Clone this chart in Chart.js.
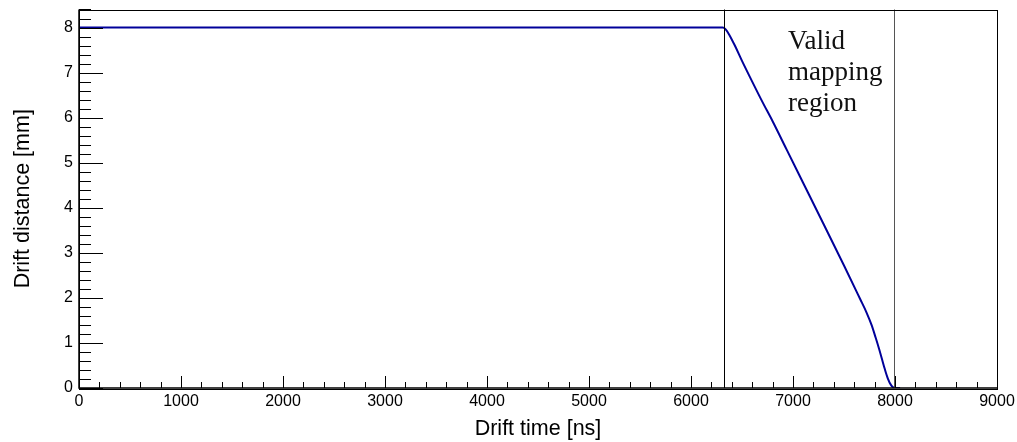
<!DOCTYPE html>
<html>
<head>
<meta charset="utf-8">
<script src="https://cdn.jsdelivr.net/npm/chart.js@4/dist/chart.umd.min.js"></script>
<style>
html,body{margin:0;padding:0;background:#fff;}
#wrap{width:1017px;height:442px;position:relative;}
</style>
</head>
<body>
<div id="wrap"><canvas id="c" width="1017" height="442"></canvas></div>
<script>
// ---- data ----
const driftTime = [0, 6310, 6340, 6380, 6430, 6500, 6600, 6700, 6800, 6938, 7100, 7297, 7500, 7657, 7720, 7770, 7810, 7845, 7870, 7900, 7930, 7960, 7985, 8000, 8050];
const driftDist = [8, 8, 7.96, 7.82, 7.6, 7.26, 6.8, 6.35, 5.92, 5.29, 4.55, 3.65, 2.72, 1.98, 1.68, 1.4, 1.12, 0.86, 0.66, 0.42, 0.21, 0.07, 0.01, 0, 0];
const xTickValues = [0, 1000, 2000, 3000, 4000, 5000, 6000, 7000, 8000, 9000];
const yTickValues = [0, 1, 2, 3, 4, 5, 6, 7, 8];
const regionLines = [6325, 7995];
const regionText = ["Valid", "mapping", "region"];
const xTitle = "Drift time [ns]";
const yTitle = "Drift distance [mm]";

const points = driftTime.map((t, i) => ({x: t, y: driftDist[i]}));

const overlay = {
  id: 'overlay',
  afterDatasetsDraw(chart) {
    const ctx = chart.ctx;
    const a = chart.chartArea;
    const xs = chart.scales.x, ys = chart.scales.y;
    ctx.save();
    // region lines
    ctx.lineWidth = 1;
    regionLines.forEach((v, i) => {
      const px = Math.round(xs.getPixelForValue(v)) + 0.5;
      ctx.strokeStyle = i === 0 ? '#000' : '#555';
      ctx.beginPath(); ctx.moveTo(px, a.top); ctx.lineTo(px, a.bottom); ctx.stroke();
    });
    // frame
    ctx.strokeStyle = '#000';
    ctx.lineWidth = 1;
    ctx.strokeRect(Math.round(a.left) + 0.5, Math.round(a.top) + 0.5, Math.round(a.right - a.left), Math.round(a.bottom - a.top));
    ctx.lineWidth = 1.5;
    ctx.beginPath(); ctx.moveTo(a.left, a.top); ctx.lineTo(a.left, a.bottom); ctx.lineTo(a.right, a.bottom); ctx.stroke();
    // ticks inside
    ctx.lineWidth = 1;
    const xStep = xTickValues[1] - xTickValues[0];
    for (let v = xs.min; v <= xs.max + 1e-6; v += xStep / 5) {
      const major = Math.abs(v / xStep - Math.round(v / xStep)) < 1e-6;
      const px = Math.round(xs.getPixelForValue(v)) + 0.5;
      ctx.beginPath(); ctx.moveTo(px, a.bottom); ctx.lineTo(px, a.bottom - (major ? 12 : 6)); ctx.stroke();
    }
    const yStep = yTickValues[1] - yTickValues[0];
    for (let v = ys.min; v <= ys.max + 1e-6; v += yStep / 5) {
      const major = Math.abs(v / yStep - Math.round(v / yStep)) < 1e-6;
      const py = Math.round(ys.getPixelForValue(v)) + 0.5;
      ctx.beginPath(); ctx.moveTo(a.left, py); ctx.lineTo(a.left + (major ? 24 : 12), py); ctx.stroke();
    }
    // region text
    ctx.fillStyle = '#111';
    ctx.font = '27px "Liberation Serif", serif';
    ctx.textAlign = 'left';
    ctx.textBaseline = 'alphabetic';
    const tx = xs.getPixelForValue(6950);
    const ty0 = ys.getPixelForValue(7.52);
    regionText.forEach((s, i) => ctx.fillText(s, tx, ty0 + i * 31));
    ctx.restore();
  }
};

new Chart(document.getElementById('c'), {
  type: 'line',
  data: {
    datasets: [{
      data: points,
      borderColor: '#00009a',
      borderWidth: 2,
      pointRadius: 0,
      fill: false,
      cubicInterpolationMode: 'monotone'
    }]
  },
  options: {
    responsive: false,
    animation: false,
    devicePixelRatio: 1,
    layout: {padding: {left: 0, right: 20, top: 9.5, bottom: 0}},
    plugins: {legend: {display: false}, tooltip: {enabled: false}},
    scales: {
      x: {
        type: 'linear', min: 0, max: 9000,
        afterBuildTicks: s => { s.ticks = xTickValues.map(v => ({value: v})); },
        afterFit: s => { s.height = 442 - 388; s.paddingLeft = 0; s.paddingRight = 0; },
        grid: {display: false, drawTicks: false},
        border: {display: false},
        ticks: {color: '#000', padding: 4, maxRotation: 0, autoSkip: false,
                font: {family: '"Liberation Sans", Arial, sans-serif', size: 16},
                callback: v => String(v)},
        title: {display: true, text: xTitle, color: '#000',
                font: {family: '"Liberation Sans", Arial, sans-serif', size: 21.5},
                padding: {top: 2, bottom: 0}}
      },
      y: {
        type: 'linear', min: 0, max: 8.4,
        afterBuildTicks: s => { s.ticks = yTickValues.map(v => ({value: v})); },
        afterFit: s => { s.width = 79; s.paddingTop = 0; s.paddingBottom = 0; },
        grid: {display: false, drawTicks: false},
        border: {display: false},
        ticks: {color: '#000', padding: 6, autoSkip: false,
                font: {family: '"Liberation Sans", Arial, sans-serif', size: 16},
                callback: v => String(v)},
        title: {display: true, text: yTitle, color: '#000',
                font: {family: '"Liberation Sans", Arial, sans-serif', size: 21.5},
                padding: {top: 10, bottom: 0}}
      }
    }
  },
  plugins: [overlay]
});
</script>
</body>
</html>
